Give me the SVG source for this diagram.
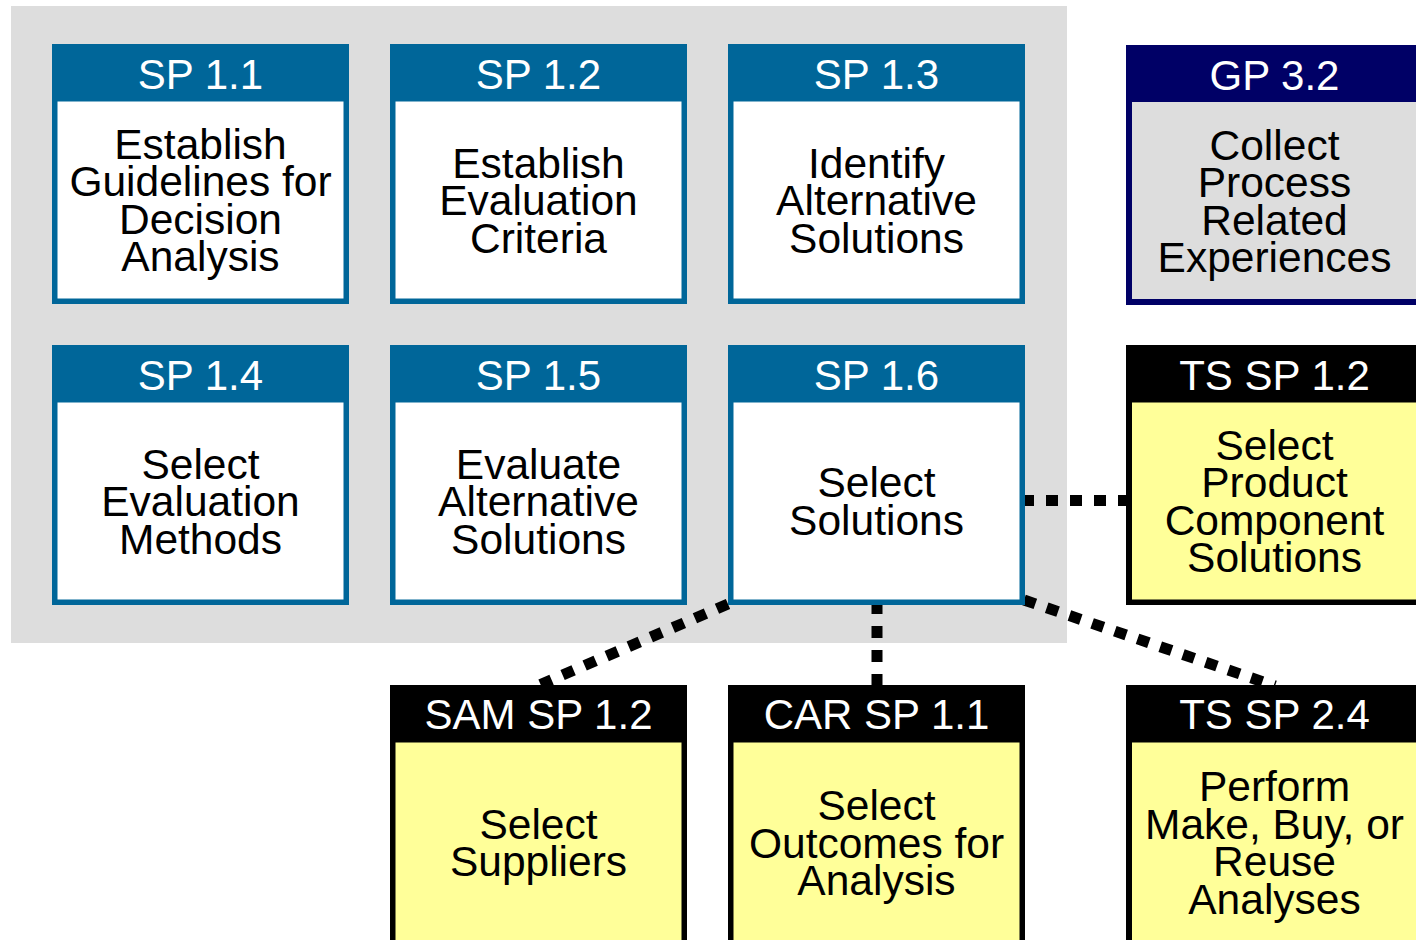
<svg xmlns="http://www.w3.org/2000/svg" width="1416" height="940" viewBox="0 0 1416 940">
<style>
text{font-family:"Liberation Sans",Arial,Helvetica,sans-serif;text-anchor:middle}
.hd{font-size:42px;fill:#ffffff}
.bd{font-size:42.5px;fill:#000000}
.sp{fill:#006699}
.gp{fill:#000066}
.ext{fill:#000000}
.wh{fill:#ffffff}
.ye{fill:#ffff99}
.gr{fill:#dddddd}
.dot{stroke:#000000;stroke-width:11;stroke-dasharray:12 12;fill:none}
</style>
<rect x="11" y="6" width="1056" height="637" fill="#dddddd"/>
<g id="connectors">
<line class="dot" x1="1022" y1="500.5" x2="1127" y2="500.5"/>
<line class="dot" x1="877" y1="602" x2="877" y2="686"/>
<line class="dot" x1="728" y1="604" x2="537" y2="686"/>
<line class="dot" x1="1024" y1="600" x2="1275" y2="686"/>
</g>
<g id="sp11">
<rect class="sp" x="52" y="44" width="297" height="260"/>
<rect class="wh" x="57.5" y="101.5" width="286" height="197"/>
<text class="hd" x="200.5" y="89">SP 1.1</text>
<text class="bd" x="200.5" y="158.5"><tspan x="200.5">Establish</tspan><tspan x="200.5" dy="37.5">Guidelines for</tspan><tspan x="200.5" dy="37.5">Decision</tspan><tspan x="200.5" dy="37.5">Analysis</tspan></text>
</g>
<g id="sp12">
<rect class="sp" x="390" y="44" width="297" height="260"/>
<rect class="wh" x="395.5" y="101.5" width="286" height="197"/>
<text class="hd" x="538.5" y="89">SP 1.2</text>
<text class="bd" x="538.5" y="177.5"><tspan x="538.5">Establish</tspan><tspan x="538.5" dy="37.5">Evaluation</tspan><tspan x="538.5" dy="37.5">Criteria</tspan></text>
</g>
<g id="sp13">
<rect class="sp" x="728" y="44" width="297" height="260"/>
<rect class="wh" x="733.5" y="101.5" width="286" height="197"/>
<text class="hd" x="876.5" y="89">SP 1.3</text>
<text class="bd" x="876.5" y="177.5"><tspan x="876.5">Identify</tspan><tspan x="876.5" dy="37.5">Alternative</tspan><tspan x="876.5" dy="37.5">Solutions</tspan></text>
</g>
<g id="gp32">
<rect class="gp" x="1126" y="45" width="300" height="260"/>
<rect class="gr" x="1132" y="102" width="300" height="197"/>
<text class="hd" x="1274.5" y="90">GP 3.2</text>
<text class="bd" x="1274.5" y="159.5"><tspan x="1274.5">Collect</tspan><tspan x="1274.5" dy="37.5">Process</tspan><tspan x="1274.5" dy="37.5">Related</tspan><tspan x="1274.5" dy="37.5">Experiences</tspan></text>
</g>
<g id="sp14">
<rect class="sp" x="52" y="345" width="297" height="260"/>
<rect class="wh" x="57.5" y="402.5" width="286" height="197"/>
<text class="hd" x="200.5" y="390">SP 1.4</text>
<text class="bd" x="200.5" y="478.5"><tspan x="200.5">Select</tspan><tspan x="200.5" dy="37.5">Evaluation</tspan><tspan x="200.5" dy="37.5">Methods</tspan></text>
</g>
<g id="sp15">
<rect class="sp" x="390" y="345" width="297" height="260"/>
<rect class="wh" x="395.5" y="402.5" width="286" height="197"/>
<text class="hd" x="538.5" y="390">SP 1.5</text>
<text class="bd" x="538.5" y="478.5"><tspan x="538.5">Evaluate</tspan><tspan x="538.5" dy="37.5">Alternative</tspan><tspan x="538.5" dy="37.5">Solutions</tspan></text>
</g>
<g id="sp16">
<rect class="sp" x="728" y="345" width="297" height="260"/>
<rect class="wh" x="733.5" y="402.5" width="286" height="197"/>
<text class="hd" x="876.5" y="390">SP 1.6</text>
<text class="bd" x="876.5" y="497"><tspan x="876.5">Select</tspan><tspan x="876.5" dy="37.5">Solutions</tspan></text>
</g>
<g id="ts12">
<rect class="ext" x="1126" y="345" width="300" height="260"/>
<rect class="ye" x="1132" y="402.5" width="300" height="197"/>
<text class="hd" x="1274.5" y="390">TS SP 1.2</text>
<text class="bd" x="1274.5" y="459.5"><tspan x="1274.5">Select</tspan><tspan x="1274.5" dy="37.5">Product</tspan><tspan x="1274.5" dy="37.5">Component</tspan><tspan x="1274.5" dy="37.5">Solutions</tspan></text>
</g>
<g id="sam12">
<rect class="ext" x="390" y="685" width="297" height="270"/>
<rect class="ye" x="395.5" y="742.5" width="286" height="220"/>
<text class="hd" x="538.5" y="729">SAM SP 1.2</text>
<text class="bd" x="538.5" y="838.5"><tspan x="538.5">Select</tspan><tspan x="538.5" dy="37.5">Suppliers</tspan></text>
</g>
<g id="car11">
<rect class="ext" x="728" y="685" width="297" height="270"/>
<rect class="ye" x="733.5" y="742.5" width="286" height="220"/>
<text class="hd" x="876.5" y="729">CAR SP 1.1</text>
<text class="bd" x="876.5" y="820"><tspan x="876.5">Select</tspan><tspan x="876.5" dy="37.5">Outcomes for</tspan><tspan x="876.5" dy="37.5">Analysis</tspan></text>
</g>
<g id="ts24">
<rect class="ext" x="1126" y="685" width="300" height="270"/>
<rect class="ye" x="1132" y="742.5" width="300" height="220"/>
<text class="hd" x="1274.5" y="729">TS SP 2.4</text>
<text class="bd" x="1274.5" y="801"><tspan x="1274.5">Perform</tspan><tspan x="1274.5" dy="37.5">Make, Buy, or</tspan><tspan x="1274.5" dy="37.5">Reuse</tspan><tspan x="1274.5" dy="37.5">Analyses</tspan></text>
</g>
</svg>
